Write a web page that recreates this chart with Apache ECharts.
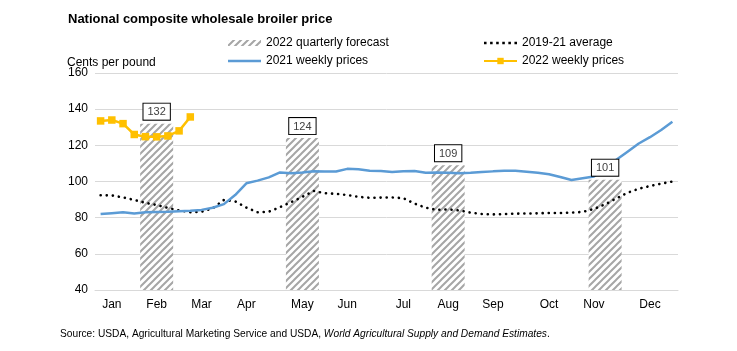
<!DOCTYPE html>
<html>
<head>
<meta charset="utf-8">
<script src="https://cdn.jsdelivr.net/npm/echarts@6/dist/echarts.min.js"></script>
<style>
  html, body { margin: 0; padding: 0; background: #fff; }
  #chart { width: 737px; height: 351px; }
</style>
</head>
<body>
<div id="chart"></div>
<script>
// month labels and the week (category index) each one sits on
var monthLabels = ['Jan', 'Feb', 'Mar', 'Apr', 'May', 'Jun', 'Jul', 'Aug', 'Sep', 'Oct', 'Nov', 'Dec'];
var monthWeeks = [1, 5, 9, 13, 18, 22, 27, 31, 35, 40, 44, 49];

// 2022 quarterly forecast (week index, value)
var forecastWeeks = [5, 18, 31, 45];
var forecastValues = [132, 124, 109, 101];

// 2021 weekly prices, 52 weeks
var prices2021 = [82, 82.5, 83, 82.3, 83, 83.2, 83.3, 83.6, 83.8, 84.3,
  85.5, 87.5, 92.5, 99, 100.5, 102.3, 105, 104.5, 105, 105.7,
  105.5, 105.5, 107, 106.8, 106, 105.8, 105.3, 105.7, 105.8, 104.8,
  105, 104.8, 104.5, 104.8, 105.2, 105.6, 105.9, 105.9, 105.4, 104.8,
  104, 102.5, 100.8, 101.8, 102.8, 107, 112, 116.5, 121, 124.5,
  128.5, 133];

// 2019-21 average, 52 weeks
var avg1921 = [92.4, 92.3, 91.2, 89.8, 88.2, 87, 85.4, 84, 83, 83.3,
  85.2, 89.8, 89, 85.6, 83, 83.3, 85.8, 88.6, 91.5, 94.8,
  93.5, 93.2, 92.5, 91.5, 91, 91.1, 91.2, 90.8, 87.8, 85.5,
  84.3, 84.6, 84, 82.8, 82, 81.8, 82, 82.2, 82.3, 82.4,
  82.6, 82.6, 82.8, 83.2, 84.8, 87.4, 90.6, 93.8, 96, 97.5,
  98.8, 100];

// 2022 weekly prices so far
var prices2022 = [133.5, 134, 132, 126, 124.8, 124.7, 125.2, 128, 135.7];

var weeks = [];
for (var i = 0; i < 52; i++) weeks.push('');
for (var m = 0; m < monthLabels.length; m++) weeks[monthWeeks[m]] = monthLabels[m];

var forecastData = weeks.map(function () { return null; });
for (var f = 0; f < forecastWeeks.length; f++) forecastData[forecastWeeks[f]] = forecastValues[f];

// hatch pattern for the forecast bars
var hatch = document.createElement('canvas');
hatch.width = 7;
hatch.height = 7;
var ctx = hatch.getContext('2d');
ctx.fillStyle = '#fff';
ctx.fillRect(0, 0, 7, 7);
ctx.strokeStyle = '#a6a6a6';
ctx.lineWidth = 2;
ctx.beginPath();
ctx.moveTo(0, 7); ctx.lineTo(7, 0);
ctx.moveTo(-1, 1); ctx.lineTo(1, -1);
ctx.moveTo(6, 8); ctx.lineTo(8, 6);
ctx.stroke();

// legend icons drawn as plain shapes
var solidIcon = 'path://M0,0H33V2.5H0Z';
var dotsIcon = 'path://M0,0h2.6v2.6h-2.6z M6.2,0h2.6v2.6h-2.6z M12.4,0h2.6v2.6h-2.6z M18.6,0h2.6v2.6h-2.6z M24.8,0h2.6v2.6h-2.6z M31,0h2.6v2.6h-2.6z';
var barIcon = 'path://M0,0H33V6H0Z';

var font = 'Liberation Sans, Arial, sans-serif';
var chart = echarts.init(document.getElementById('chart'));

var option = {
  animation: false,
  textStyle: { fontFamily: font },
  title: [
    {
      text: 'National composite wholesale broiler price',
      left: 63, top: 8,
      textStyle: { fontSize: 13, fontWeight: 'bold', color: '#000', fontFamily: font }
    },
    {
      text: '{n|Source: USDA, Agricultural Marketing Service and USDA, }{i|World Agricultural Supply and Demand Estimates}{n|.}',
      left: 55, top: 324,
      textStyle: {
        fontWeight: 'normal',
        rich: {
          n: { fontSize: 10.2, color: '#000', fontWeight: 'normal', fontFamily: font },
          i: { fontSize: 10.2, color: '#000', fontWeight: 'normal', fontStyle: 'italic', fontFamily: font }
        }
      }
    }
  ],
  legend: [
    {
      left: 228, top: 37, orient: 'vertical', padding: 0,
      itemWidth: 33, itemHeight: 8, itemGap: 6,
      textStyle: { fontSize: 12, color: '#000' },
      data: [
        { name: '2022 quarterly forecast', icon: barIcon },
        { name: '2021 weekly prices', icon: solidIcon }
      ]
    },
    {
      left: 483, top: 37, orient: 'vertical', padding: 0,
      itemWidth: 33, itemHeight: 8, itemGap: 6,
      textStyle: { fontSize: 12, color: '#000' },
      data: [
        { name: '2019-21 average', icon: dotsIcon },
        '2022 weekly prices'
      ]
    }
  ],
  graphic: [
    {
      type: 'text', left: 67, top: 57,
      style: { text: 'Cents per pound', fill: '#000', font: '12px ' + font }
    }
  ],
  grid: { left: 95, right: 59, top: 73, bottom: 61 },
  xAxis: {
    type: 'category',
    data: weeks,
    boundaryGap: true,
    axisLine: { lineStyle: { color: '#d9d9d9' } },
    axisTick: { show: false },
    axisLabel: {
      interval: function (index, value) { return value !== ''; },
      color: '#000', fontSize: 12, margin: 9
    }
  },
  yAxis: {
    type: 'value',
    min: 40, max: 160, interval: 20,
    axisLine: { show: false },
    axisTick: { show: false },
    axisLabel: { color: '#000', fontSize: 12, margin: 7 },
    splitLine: { lineStyle: { color: '#d9d9d9' } }
  },
  series: [
    {
      name: '2022 quarterly forecast',
      type: 'bar',
      data: forecastData,
      barWidth: 33,
      itemStyle: { color: { image: hatch, repeat: 'repeat' } },
      z: 1
    },
    {
      name: '2021 weekly prices',
      type: 'line',
      data: prices2021,
      symbol: 'none',
      lineStyle: { color: '#5b9bd5', width: 2.5 },
      itemStyle: { color: '#5b9bd5' },
      z: 3
    },
    {
      name: '2019-21 average',
      type: 'line',
      data: avg1921,
      symbol: 'none',
      lineStyle: { color: '#000', width: 2.6, type: [0.1, 6], cap: 'round' },
      itemStyle: { color: '#000' },
      z: 2
    },
    {
      name: '2022 weekly prices',
      type: 'line',
      data: prices2022,
      symbol: 'rect',
      symbolSize: 7.5,
      showAllSymbol: true,
      lineStyle: { color: '#ffc000', width: 2.5 },
      itemStyle: { color: '#ffc000' },
      z: 4
    },
    {
      // value boxes for the forecast bars, kept above the lines
      name: 'forecast labels',
      type: 'bar',
      data: forecastData,
      barWidth: 33,
      barGap: '-100%',
      itemStyle: { color: 'rgba(0,0,0,0)' },
      label: {
        show: true, position: 'top', distance: 4,
        backgroundColor: '#fff', borderColor: '#000', borderWidth: 1,
        padding: [3, 4, 2, 4], fontSize: 11, color: '#404040'
      },
      silent: true,
      z: 5
    }
  ]
};

chart.setOption(option);
</script>
</body>
</html>
